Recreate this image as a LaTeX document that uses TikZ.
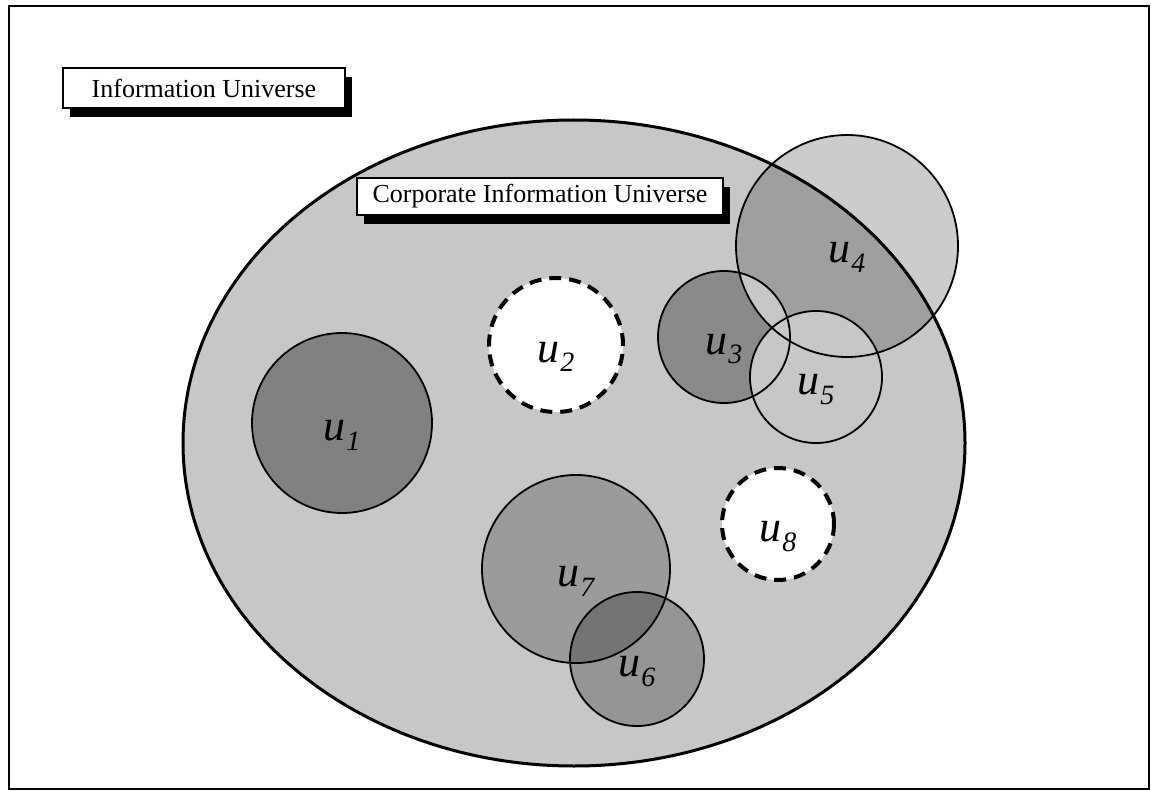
\documentclass[tikz,border=0pt]{standalone}
\usepackage{fontspec}
\setmainfont{Liberation Serif}
\usetikzlibrary{shapes.geometric,shadows}

\pgfdeclarelayer{background}
\pgfsetlayers{background,main}

\definecolor{corpgray}{gray}{0.78}
\newcommand{\ulab}[1]{{\fontsize{22}{22}\selectfont\itshape u\kern0.3pt\raisebox{-5pt}{\fontsize{14}{14}\selectfont #1}}}

\begin{document}
\begin{tikzpicture}[x=0.5pt, y=-0.5pt,
        tagbox/.style={rectangle, draw, line width=1pt, fill=white, inner sep=0pt, font=\fontsize{13}{15}\selectfont,
            drop shadow={shadow xshift=3.5pt, shadow yshift=-4.5pt, fill=black, opacity=1}},
        subu/.style={circle, draw, line width=0.9pt, inner sep=0pt, text height=22pt, text depth=5pt},
        ghost/.style={circle, draw, line width=2pt, dash pattern=on 6pt off 4pt, fill=white, inner sep=0pt, text height=22pt, text depth=5pt},
        universe/.style={ellipse, draw, line width=1.5pt, fill=corpgray}
    ]
    \useasboundingbox (0,0) rectangle (1151,791);

    % Outer frame
    \draw[line width=1.2pt] (9,6) rectangle (1149,789);

    \node[tagbox, minimum width=141pt, minimum height=20pt] (info) at (204,88) {Information Universe};

    % Subsets of the corporate universe
    \node[subu, minimum size=90pt] (u1) at (342,423) {\ulab{1}};
    \node[ghost, minimum size=67pt] (u2) at (556,345) {\ulab{2}};
    \node[subu, minimum size=66pt] (u3) at (724,337) {\ulab{3}};
    \node[subu, minimum size=111pt] (u4) at (847,246) {\ulab{4}};
    \node[subu, minimum size=66pt] (u5) at (816,377) {\ulab{5}};
    \node[subu, minimum size=67pt] (u6) at (637,659) {\ulab{6}};
    \node[subu, minimum size=94pt] (u7) at (576,569) {\ulab{7}};
    \node[ghost, minimum size=56pt] (u8) at (778,524) {\ulab{8}};

    \node[tagbox, minimum width=183pt, minimum height=18.5pt] (corp) at (540,196.5) {Corporate Information Universe};

    % Shading under the outlines
    \begin{pgfonlayer}{background}
        \node[universe, minimum width=391pt, minimum height=323pt] (cu) at (574,443) {};
        \fill[black, fill opacity=0.35] (u1.center) circle[radius=45pt];
        \fill[black, fill opacity=0.2] (u4.center) circle[radius=55.5pt];
        \fill[black, fill opacity=0.3] (u3.center) circle[radius=33pt];
        \begin{scope}
            \clip (u3.center) circle[radius=33pt];
            \fill[corpgray] (u4.center) circle[radius=55.5pt];
        \end{scope}
        \fill[corpgray] (u5.center) circle[radius=33pt];
        \fill[black, fill opacity=0.22] (u7.center) circle[radius=47pt];
        \fill[black, fill opacity=0.25] (u6.center) circle[radius=33.5pt];
    \end{pgfonlayer}

\end{tikzpicture}
\end{document}
